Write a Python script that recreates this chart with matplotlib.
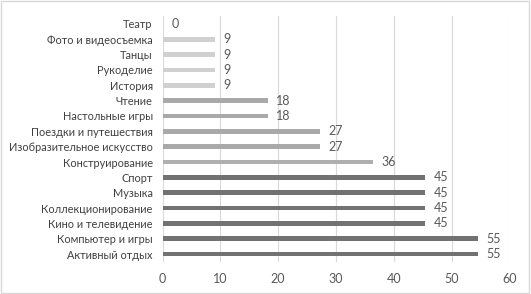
import matplotlib.pyplot as plt

categories = ["Театр", "Фото и видеосъемка", "Танцы", "Рукоделие", "История",
              "Чтение", "Настольные игры", "Поездки и путешествия",
              "Изобразительное искусство", "Конструирование", "Спорт", "Музыка",
              "Коллекционирование", "Кино и телевидение", "Компьютер и игры",
              "Активный отдых"]
values = [0, 9.09, 9.09, 9.09, 9.09, 18.18, 18.18, 27.27, 27.27, 36.36,
          45.45, 45.45, 45.45, 45.45, 54.55, 54.55]
labels = [0, 9, 9, 9, 9, 18, 18, 27, 27, 36, 45, 45, 45, 45, 55, 55]


def bar_color(v):
    if v < 10:
        return "#D0D0D0"
    if v < 30:
        return "#A9A9A9"
    if v < 40:
        return "#AFAFAF"
    return "#727272"


plt.rcParams["font.family"] = ["Lato", "DejaVu Sans"]

fig = plt.figure(figsize=(5.31, 2.94), dpi=100)
ax = fig.add_axes([162.5 / 531, 1 - 261.7 / 294, (509.3 - 162.5) / 531, (261.7 - 16.3) / 294])

y = list(range(len(categories)))
ax.barh(y, values, height=0.3, color=[bar_color(v) for v in values], zorder=3)
for yi, v, lab in zip(y, values, labels):
    ax.text(v + 1.5, yi, str(lab), va="center", ha="left", fontsize=9, color="#595959")

ax.set_yticks(y)
ax.set_yticklabels(categories, fontsize=7.9, color="#404040")
ax.invert_yaxis()
ax.set_ylim(len(categories) - 0.5, -0.5)
ax.set_xlim(0, 60)
ax.set_xticks(range(0, 61, 10))
ax.tick_params(axis="x", labelsize=9, labelcolor="#595959", length=0, pad=8)
ax.tick_params(axis="y", length=0, pad=7)
ax.grid(axis="x", color="#D9D9D9", linewidth=0.8, zorder=0)
for s in ax.spines.values():
    s.set_visible(False)

fig.patches.append(plt.Rectangle((0.002, 0.003), 0.995, 0.994, transform=fig.transFigure,
                                 fill=False, edgecolor="#D9D9D9", linewidth=1))

fig.savefig("out.png", dpi=100)
